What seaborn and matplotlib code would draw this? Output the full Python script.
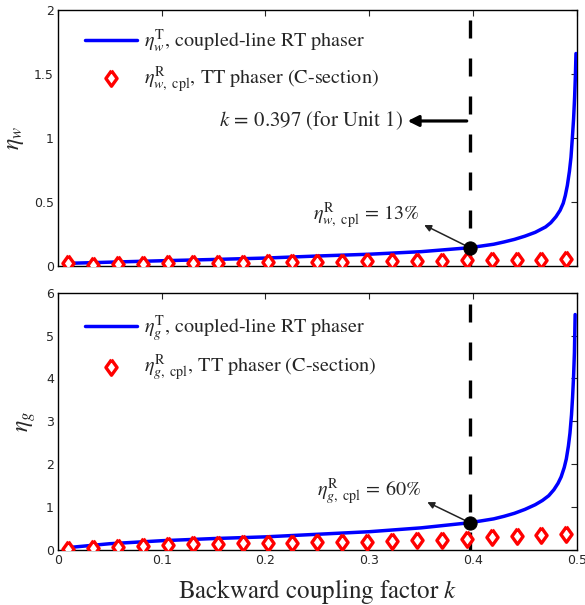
import numpy as np
import pandas as pd
import matplotlib
matplotlib.use("Agg")
import matplotlib.pyplot as plt
import seaborn as sns

# ---------------- data ----------------
k_curve_w = [0.01, 0.05, 0.10, 0.15, 0.20, 0.25, 0.30, 0.35, 0.397, 0.42, 0.43,
             0.44, 0.45, 0.46, 0.47, 0.475, 0.48, 0.484, 0.487, 0.489, 0.491, 0.493,
             0.4945, 0.4958, 0.497, 0.498, 0.4988, 0.4993]
eta_w_T = [0.021, 0.030, 0.041, 0.051, 0.062, 0.078, 0.092, 0.112, 0.143, 0.170, 0.188,
           0.208, 0.233, 0.263, 0.305, 0.338, 0.385, 0.435, 0.49, 0.55, 0.63, 0.74,
           0.85, 1.0, 1.15, 1.32, 1.5, 1.66]

k_curve_g = [0.01, 0.05, 0.10, 0.15, 0.20, 0.25, 0.30, 0.35, 0.397, 0.42, 0.43,
             0.44, 0.45, 0.46, 0.467, 0.473, 0.478, 0.482, 0.485, 0.488, 0.490, 0.492,
             0.4935, 0.495, 0.496, 0.497, 0.4978, 0.4985]
eta_g_T = [0.05, 0.14, 0.21, 0.26, 0.30, 0.36, 0.42, 0.51, 0.63, 0.72, 0.78,
           0.85, 0.94, 1.05, 1.15, 1.26, 1.40, 1.55, 1.70, 1.92, 2.12, 2.42,
           2.72, 3.15, 3.55, 4.05, 4.6, 5.49]

k_markers = [0.010, 0.034, 0.058, 0.082, 0.106, 0.130, 0.154, 0.178, 0.202, 0.226,
             0.250, 0.274, 0.298, 0.322, 0.346, 0.370, 0.394, 0.418, 0.442, 0.466,
             0.490]
eta_w_R = [0.026, 0.008, 0.013, 0.016, 0.020, 0.022, 0.024, 0.026, 0.028, 0.030, 0.032,
           0.034, 0.036, 0.038, 0.040, 0.042, 0.044, 0.046, 0.048, 0.050, 0.053]
eta_g_R = [0.01, 0.05, 0.07, 0.09, 0.11, 0.125, 0.13, 0.15, 0.15, 0.165, 0.17, 0.18,
           0.19, 0.20, 0.22, 0.235, 0.25, 0.29, 0.31, 0.34, 0.37]

k_unit = [0.397]
dot_w = [0.143]
dot_g = [0.63]

x_ticks = [0, 0.1, 0.2, 0.3, 0.4, 0.5]
x_ticklabels = ["0", "0.1", "0.2", "0.3", "0.4", "0.5"]
yw_ticks = [0, 0.5, 1, 1.5, 2]
yw_ticklabels = ["0", "0.5", "1", "1.5", "2"]
yg_ticks = [0, 1, 2, 3, 4, 5, 6]
yg_ticklabels = ["0", "1", "2", "3", "4", "5", "6"]

# ---------------- style ----------------
sns.set_style("white")
plt.rcParams["font.family"] = ["STIXGeneral", "DejaVu Serif"]
plt.rcParams["mathtext.fontset"] = "stix"

diamond = [(0, 1), (0.72, 0), (0, -1), (-0.72, 0), (0, 1)]

fig = plt.figure(figsize=(5.85, 6.05), dpi=100)
W, H = 585, 605
ax1 = fig.add_axes([58 / W, 1 - 266 / H, (576.7 - 58) / W, (266 - 10) / H])
ax2 = fig.add_axes([58 / W, 1 - 549.7 / H, (576.7 - 58) / W, (549.7 - 292.7) / H])

df_w = pd.DataFrame({"k": k_curve_w, "eta": eta_w_T})
df_g = pd.DataFrame({"k": k_curve_g, "eta": eta_g_T})
df_mw = pd.DataFrame({"k": k_markers, "eta": eta_w_R})
df_mg = pd.DataFrame({"k": k_markers, "eta": eta_g_R})
df_dw = pd.DataFrame({"k": k_unit, "eta": dot_w})
df_dg = pd.DataFrame({"k": k_unit, "eta": dot_g})

panels = [
    (ax1, df_w, df_mw, df_dw, "w", (0, 2), yw_ticks, yw_ticklabels, 0.93),
    (ax2, df_g, df_mg, df_dg, "g", (0, 6), yg_ticks, yg_ticklabels, 0.92),
]

for ax, dfc, dfm, dfd, sub, ylim, yt, ytl, ly in panels:
    ax.axvline(k_unit[0], color="black", lw=2.4, dashes=(5.4, 6.0), zorder=1)
    sns.lineplot(data=dfc, x="k", y="eta", ax=ax, color="#0000ff", lw=2.5,
                 label=r"$\eta_{%s}^{\mathrm{T}}$, coupled-line RT phaser" % sub,
                 zorder=3, sort=False)
    sns.scatterplot(data=dfm, x="k", y="eta", ax=ax, marker=diamond, s=125,
                    facecolor="white", edgecolor="#ff0000", linewidth=2.4,
                    label=r"$\eta_{%s,\ \mathrm{cpl}}^{\mathrm{R}}$, TT phaser (C-section)" % sub,
                    zorder=4)
    sns.scatterplot(data=dfd, x="k", y="eta", ax=ax, color="black", s=90,
                    edgecolor="black", zorder=5, legend=False)
    ax.set_xlim(0, 0.5)
    ax.set_ylim(*ylim)
    ax.set_xticks(x_ticks)
    ax.set_yticks(yt)
    ax.set_yticklabels(ytl, fontfamily="DejaVu Sans", fontsize=9)
    ax.tick_params(direction="in", length=4, width=0.8, top=True, right=True,
                   labelsize=9, pad=3)
    for s in ax.spines.values():
        s.set_linewidth(1.0)
        s.set_color("black")
    ax.set_ylabel(r"$\eta_{%s}$" % sub, fontsize=17, labelpad=6)
    ax.set_xlabel("")
    ax.legend(loc="upper left", bbox_to_anchor=(0.052, ly), frameon=False,
              fontsize=14.5, handlelength=2.6, handletextpad=0.35,
              labelspacing=0.42, borderpad=0, borderaxespad=0)

ax1.set_xticklabels([])
ax2.set_xticklabels(x_ticklabels, fontfamily="DejaVu Sans", fontsize=9)
ax2.set_xlabel(r"Backward coupling factor $k$", fontsize=18)
ax2.xaxis.set_label_coords(0.5, -0.105)

# annotations
ax1.annotate("", xy=(0.337, 1.133), xytext=(0.394, 1.133),
             arrowprops=dict(arrowstyle="-|>", color="black", lw=2.3,
                             mutation_scale=16, shrinkA=0, shrinkB=0))
ax1.text(0.333, 1.133, r"$k\, =\, 0.397$ (for Unit 1)", ha="right", va="center",
         fontsize=15)

ax1.annotate("", xy=(0.353, 0.32), xytext=(k_unit[0], dot_w[0]),
             arrowprops=dict(arrowstyle="-|>", color="#222222", lw=1.1,
                             mutation_scale=10, shrinkA=4, shrinkB=0))
ax1.text(0.297, 0.39, r"$\eta_{w,\ \mathrm{cpl}}^{\mathrm{R}}\, =\, 13\%$",
         ha="center", va="center", fontsize=14.5)

ax2.annotate("", xy=(0.356, 1.11), xytext=(k_unit[0], dot_g[0]),
             arrowprops=dict(arrowstyle="-|>", color="#222222", lw=1.1,
                             mutation_scale=10, shrinkA=4, shrinkB=0))
ax2.text(0.300, 1.36, r"$\eta_{g,\ \mathrm{cpl}}^{\mathrm{R}}\, =\, 60\%$",
         ha="center", va="center", fontsize=14.5)

fig.savefig("out.png", dpi=100)
